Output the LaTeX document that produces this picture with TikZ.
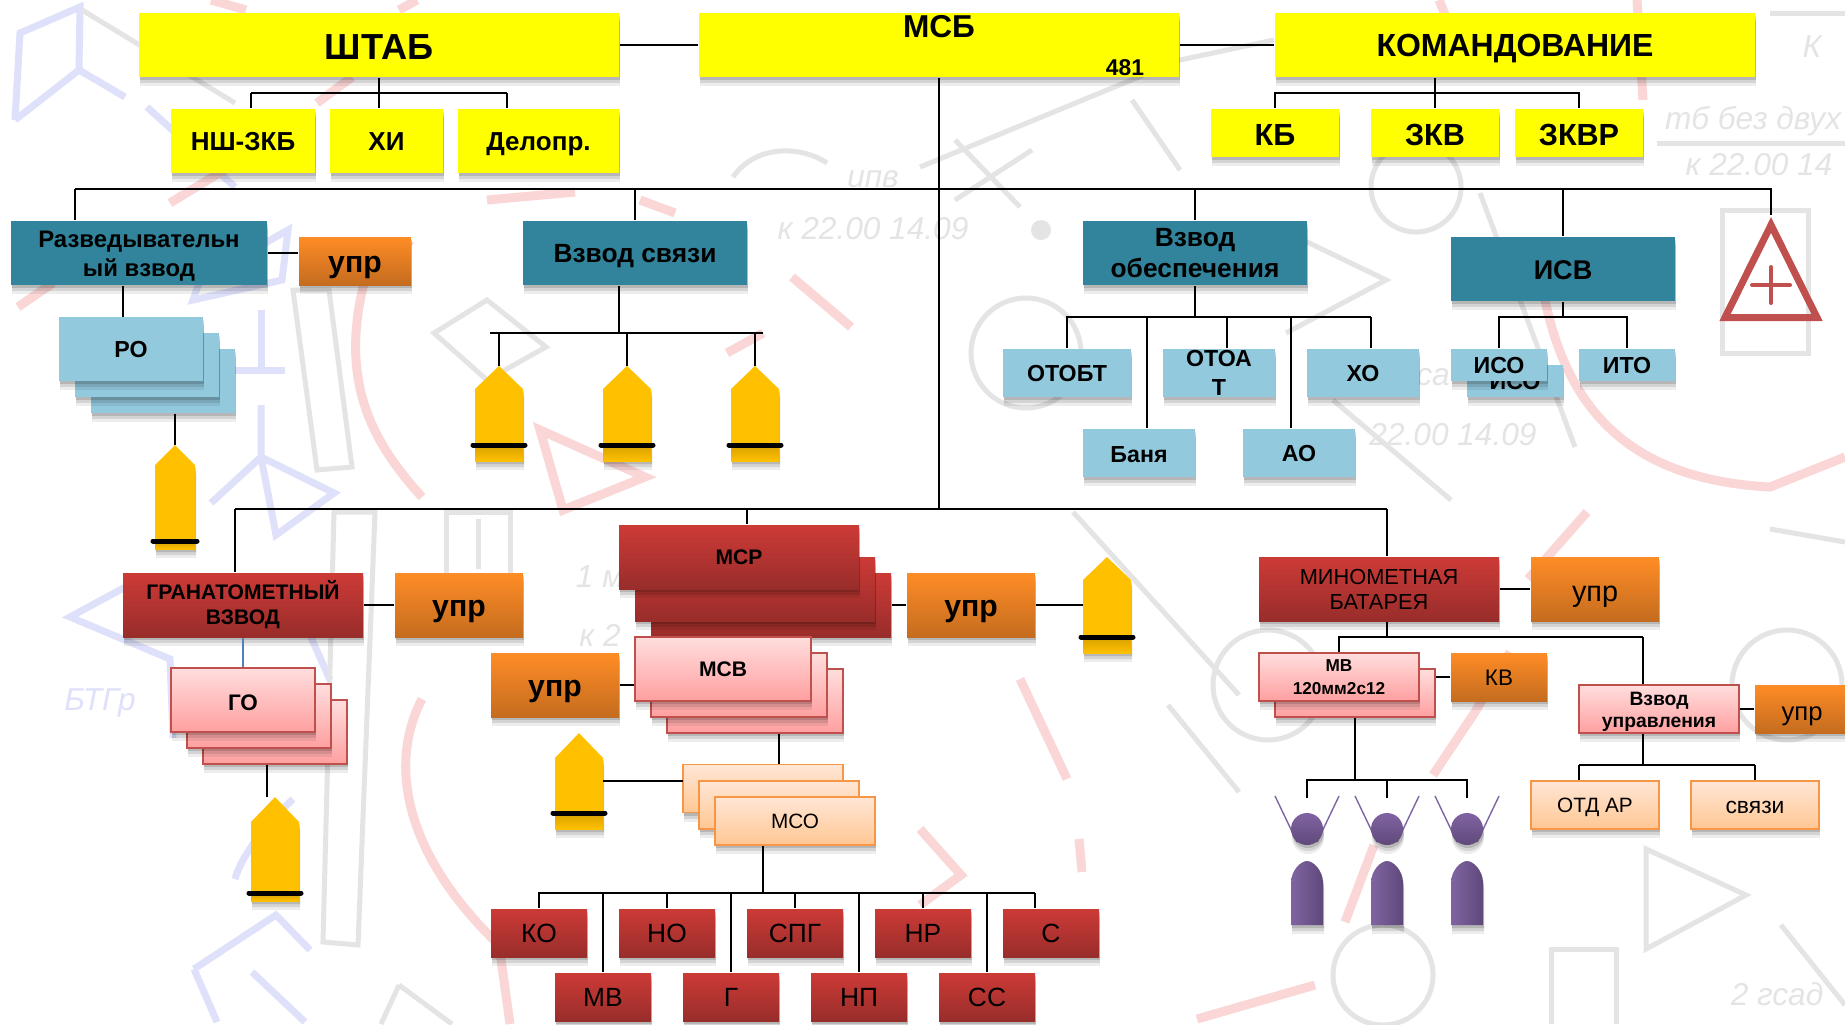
\documentclass[tikz,border=0pt]{standalone}
\usepackage{fontspec}
\setmainfont{Liberation Sans}
\usetikzlibrary{shadows}
\definecolor{hqyellow}{HTML}{FFFF00}
\definecolor{tealbox}{HTML}{31849B}
\definecolor{skybox}{HTML}{92C9DC}
\definecolor{ordtop}{HTML}{FF8C26}
\definecolor{ordbot}{HTML}{C46C1F}
\definecolor{redtop}{HTML}{CD3A37}
\definecolor{redbot}{HTML}{982D2A}
\definecolor{pinktop}{HTML}{FFDEDE}
\definecolor{pinkbot}{HTML}{FF9F9F}
\definecolor{pinkline}{HTML}{C0504D}
\definecolor{peachtop}{HTML}{FFE6D5}
\definecolor{peachbot}{HTML}{FFC793}
\definecolor{peachline}{HTML}{F79646}
\definecolor{penfill}{HTML}{FFC000}
\definecolor{pendark}{HTML}{D6A000}
\definecolor{purptop}{HTML}{8064A2}
\definecolor{purpbot}{HTML}{5F497A}
\definecolor{mapgrey}{HTML}{E4E4E4}
\definecolor{mapred}{HTML}{FBD6D6}
\definecolor{mapblue}{HTML}{DFE1FB}
\definecolor{golink}{HTML}{4F81BD}
\tikzset{
	softshadow/.style={
		drop shadow={shadow xshift=0.01cm, shadow yshift=-0.09cm, opacity=0.07, fill=black},
		drop shadow={shadow xshift=0.01cm, shadow yshift=-0.06cm, opacity=0.10, fill=black},
		drop shadow={shadow xshift=0.01cm, shadow yshift=-0.03cm, opacity=0.14, fill=black}},
	wh/.style 2 args={minimum width=#1cm, minimum height=#2cm, inner sep=0pt, align=center},
	bf/.style 2 args={font=\bfseries\fontsize{#1}{#2}\selectfont},
	rg/.style 2 args={font=\fontsize{#1}{#2}\selectfont},
	dn/.style={text depth=0pt, text height=#1pt},
	hqbox/.style={fill=hqyellow, softshadow},
	tealrect/.style={fill=tealbox, softshadow},
	skyrect/.style={fill=skybox, softshadow},
	ordrect/.style={top color=ordtop, bottom color=ordbot, softshadow},
	redrect/.style={top color=redtop, bottom color=redbot, softshadow},
	pinkrect/.style={top color=pinktop, bottom color=pinkbot, draw=pinkline, line width=0.5pt, softshadow},
	peachrect/.style={top color=peachtop, bottom color=peachbot, draw=peachline, line width=0.5pt, softshadow},
	link/.style={line width=0.45pt},
	bus/.style={line width=0.65pt},
	mapg/.style={draw=mapgrey, line width=0.05cm},
	mapr/.style={draw=mapred, line width=0.09cm},
	mapb/.style={draw=mapblue, line width=0.07cm},
	maptext/.style={text=mapgrey, font=\itshape\fontsize{9}{10}\selectfont},
	pics/pencil/.style n args={4}{code={
		\coordinate (-tip) at (0,0);
		\coordinate (-w) at (-#1,-#3);
		\coordinate (-e) at (#1,-#3);
		\fill[penfill, softshadow] (0,0) -- (#1,-#3) -- (#1,-#2) -- (-#1,-#2) -- (-#1,-#3) -- cycle;
		\shade[top color=pendark, bottom color=penfill] (-#1,-#4) rectangle (#1,-#2);
		\draw[line width=0.05cm, line cap=round] (-#1-0.02,-#4) -- (#1+0.02,-#4);
	}},
	pics/mortar/.style={code={
		\coordinate (-top) at (0,0);
		\draw[purptop, line width=0.4pt] (-0.32,0.02) -- (-0.1,-0.44);
		\draw[purptop, line width=0.4pt] (0.32,0.02) -- (0.1,-0.44);
		\shade[top color=purptop, bottom color=purpbot, softshadow] (0,-0.31) ellipse (0.16 and 0.16);
		\shade[left color=purptop, right color=purpbot, softshadow] (-0.16,-1.27) -- (-0.16,-0.85) .. controls (-0.16,-0.72) and (-0.06,-0.63) .. (0,-0.63) .. controls (0.06,-0.63) and (0.16,-0.72) .. (0.16,-0.85) -- (0.16,-1.27) -- cycle;
	}}
}
\begin{document}
\begin{tikzpicture}[draw=black]
	\useasboundingbox (0,0) rectangle (18.45,-10.24);
	\clip (0,0) rectangle (18.45,-10.24);
	\fill[white] (0,0) rectangle (18.45,-10.24);

	\draw[mapb] (0.15,-1.20) -- (0.20,-0.33) -- (0.80,-0.07) -- (0.79,-0.70) -- (0.15,-1.20);
	\draw[mapb] (0.79,-0.70) -- (1.25,-0.97);
	\draw[mapb] (1.47,-1.07) -- (2.35,-1.87);
	\draw[mapb] (2.00,-2.80) -- (1.93,-3.00) -- (2.82,-2.80) -- (2.88,-2.30) -- (2.00,-2.80);
	\draw[mapb] (2.61,-3.10) -- (2.61,-3.70);
	\draw[mapb] (2.23,-3.70) -- (2.85,-3.70);
	\draw[mapb] (2.61,-4.05) -- (2.61,-4.57) -- (3.34,-4.93) -- (2.76,-5.35) -- (2.61,-4.57) -- (2.11,-5.03);
	\draw[mapb] (2.90,-5.90) -- (3.30,-6.80);
	\draw[mapb] (1.29,-5.85) -- (0.70,-6.17) -- (1.70,-6.59) -- (1.73,-7.38);
	\draw[mapb] (2.93,-7.99) .. controls (2.60,-8.30) and (2.40,-8.60) .. (2.35,-8.79);
	\draw[mapb] (1.94,-9.69) -- (2.76,-9.15) -- (3.10,-9.50);
	\draw[mapb] (1.94,-9.69) -- (2.17,-10.22);
	\draw[mapb] (2.52,-9.72) -- (3.05,-10.22);

	\draw[mapr] (4.11,-2.40) -- (3.64,-2.83) .. controls (3.40,-3.80) and (3.70,-4.40) .. (4.22,-4.97);
	\draw[mapr] (4.22,-6.99) .. controls (3.90,-7.60) and (4.00,-8.50) .. (4.99,-9.45) -- (5.10,-10.24);
	\draw[mapr] (4.87,-2.00) -- (5.75,-1.92);
	\draw[mapr] (6.40,-2.00) -- (6.75,-2.13);
	\draw[mapr] (2.11,0) -- (2.46,-0.10);
	\draw[mapr] (3.99,-0.10) -- (4.17,0);
	\draw[mapr] (3.17,-1.03) -- (3.52,-0.77);
	\draw[mapr] (1.70,-2.03) -- (2.29,-1.67);
	\draw[mapr] (0.18,-3.07) -- (0.53,-2.83);
	\draw[mapr] (5.40,-4.30) -- (6.45,-4.77) -- (5.63,-5.10) -- cycle;
	\draw[mapr] (7.92,-2.77) -- (8.51,-3.27);
	\draw[mapr] (7.27,-3.53) -- (7.63,-3.33);
	\draw[mapr] (14.39,0) -- (14.69,-0.73);
	\draw[mapr] (16.37,0) -- (16.43,-1.00);
	\draw[mapr] (15.45,-3.00) .. controls (15.70,-4.20) and (16.40,-4.80) .. (17.70,-4.87) -- (18.45,-4.57);
	\draw[mapr] (10.20,-6.79) -- (10.67,-7.79);
	\draw[mapr] (10.79,-8.39) -- (10.82,-8.72);
	\draw[mapr] (9.20,-8.29) -- (9.61,-8.75) -- (9.20,-9.05);
	\draw[mapr] (11.97,-10.19) -- (13.15,-9.85);
	\draw[mapr] (15.10,-6.52) -- (14.75,-7.12) -- (14.33,-7.75);
	\draw[mapr] (15.87,-5.12) -- (15.28,-5.79);
	\draw[mapr] (13.74,-8.45) -- (13.45,-9.22);

	\draw[mapg] (9.20,-1.67) -- (11.80,-0.60) -- (12.74,-0.40);
	\draw[mapg] (11.32,-1.00) -- (11.80,-1.70);
	\draw[mapg] (9.55,-1.40) -- (10.20,-2.07);
	\draw[mapg] (9.55,-2.00) -- (10.32,-1.50);
	\draw[mapg] (14.16,-1.87) circle (0.45);
	\draw[mapg] (10.26,-3.53) circle (0.55);
	\fill[mapgrey] (10.41,-2.30) circle (0.10);
	\draw[mapg] (13.03,-2.40) -- (13.86,-2.80) -- (12.86,-3.33);
	\draw[mapg] (13.33,-4.00) -- (14.51,-5.00);
	\draw[mapg] (14.80,-1.93) -- (15.75,-4.47);
	\draw[mapg] (2.93,-2.90) -- (3.29,-2.90) -- (3.52,-4.67) -- (3.17,-4.70) -- cycle;
	\draw[mapg] (3.34,-5.12) -- (3.75,-5.12) -- (3.58,-9.45) -- (3.23,-9.42) -- cycle;
	\draw[mapg] (4.87,-3.00) -- (5.46,-3.47) -- (4.87,-3.80) -- (4.34,-3.33) -- cycle;
	\draw[mapg] (0.82,-0.10) -- (2.35,-1.03);
	\draw[mapg] (7.33,-1.77) .. controls (7.55,-1.45) and (8.00,-1.45) .. (8.27,-1.63);
	\draw[mapg] (10.73,-5.12) -- (12.39,-6.95);
	\draw[mapg] (11.68,-7.05) -- (12.39,-7.92);
	\draw[mapg] (12.68,-6.85) circle (0.55);
	\draw[mapg] (16.46,-8.49) -- (17.46,-8.95) -- (16.46,-9.49) -- cycle;
	\draw[mapg] (15.51,-10.24) -- (15.51,-9.49) -- (16.16,-9.49) -- (16.16,-10.24);
	\draw[mapg] (13.83,-9.75) circle (0.50);
	\draw[mapg] (17.87,-6.85) circle (0.55);
	\draw[mapg] (17.81,-9.25) -- (18.45,-10.05);
	\draw[mapg] (17.70,-5.29) -- (18.45,-5.42);
	\draw[mapg] (17.22,-2.10) rectangle (18.08,-3.53);
	\draw[mapg] (16.57,-1.43) -- (18.45,-1.43);
	\draw[mapg] (17.70,-0.13) -- (18.45,-0.13);
	\draw[mapg] (3.99,-9.85) -- (4.52,-10.24);
	\draw[mapg] (3.99,-9.85) -- (3.81,-10.24);
	\draw[mapg] (4.78,-5.19) -- (4.78,-5.69);
	\draw[mapg] (4.46,-5.12) rectangle (5.10,-5.79);

	\node (mapa) at (8.73,-1.79) [maptext] {ипв};
	\node (mapb) at (8.73,-2.29) [maptext] {к 22.00 14.09};
	\node (mapc) at (17.53,-1.21) [maptext] {тб без двух};
	\node (mapd) at (17.59,-1.65) [maptext] {к 22.00 14};
	\node (mape) at (14.53,-4.35) [maptext] {22.00 14.09};
	\node (mapf) at (1.00,-7.03) [maptext, text=mapblue] {БТГр};
	\node (mapg) at (17.77,-9.94) [maptext] {2 гсад};
	\node (maph) at (6.00,-5.77) [maptext] {1 м};
	\node (mapi) at (6.00,-6.35) [maptext] {к 2};
	\node (mapj) at (18.12,-0.47) [maptext] {К};
	\node (mapk) at (14.33,-3.77) [maptext] {са};

	\node (shtab) at ( 3.79, -0.45)	[hqbox, wh={4.80}{0.64}, bf={10.3}{12}, dn=8.0]	{ШТАБ};
	\node (msb) at ( 9.39, -0.45)	[hqbox, wh={4.80}{0.64}]	{};
	\node (msbname) at ( 9.39, -0.27)	[bf={9}{11}, inner sep=0pt]	{МСБ};
	\node (msbnum) at (11.25, -0.68)	[bf={6.5}{8}, inner sep=0pt]	{481};
	\node (kom) at (15.15, -0.45)	[hqbox, wh={4.80}{0.64}, bf={9.1}{11}, dn=6.5]	{КОМАНДОВАНИЕ};
	\node (nsh) at ( 2.43, -1.41)	[hqbox, wh={1.44}{0.64}, bf={7.4}{9}, dn=5.3]	{НШ-ЗКБ};
	\node (hi) at ( 3.865, -1.41)	[hqbox, wh={1.13}{0.64}, bf={7.4}{9}, dn=5.3]	{ХИ};
	\node (delo) at ( 5.385, -1.41)	[hqbox, wh={1.61}{0.64}, bf={7.4}{9}, dn=5.3]	{Делопр.};
	\node (kb) at (12.75, -1.33)	[hqbox, wh={1.28}{0.48}, bf={8.7}{10}, dn=7.0]	{КБ};
	\node (zkv) at (14.35, -1.33)	[hqbox, wh={1.28}{0.48}, bf={8.7}{10}, dn=7.0]	{ЗКВ};
	\node (zkvr) at (15.79, -1.33)	[hqbox, wh={1.28}{0.48}, bf={8.7}{10}, dn=7.0]	{ЗКВР};

	\node (razv) at ( 1.39, -2.53)	[tealrect, wh={2.56}{0.64}, bf={6.8}{8.4}]	{\rule{0pt}{6.4pt}Разведывательн\\ый взвод};
	\node (uprr) at ( 3.55, -2.61)	[ordrect, wh={1.12}{0.48}, bf={8.6}{10}, dn=6.5]	{упр};
	\node (svyaz) at ( 6.35, -2.53)	[tealrect, wh={2.24}{0.64}, bf={7.5}{9}, dn=5.4]	{Взвод связи};
	\node (obesp) at (11.95, -2.53)	[tealrect, wh={2.24}{0.64}, bf={7.5}{9}]	{Взвод\\обеспечения};
	\node (isv) at (15.63, -2.69)	[tealrect, wh={2.24}{0.64}, bf={7.7}{9}, dn=6.2]	{ИСВ};
	\node (ro3) at ( 1.63, -3.81)	[skyrect, wh={1.44}{0.64}]	{};
	\node (ro2) at ( 1.47, -3.65)	[skyrect, wh={1.44}{0.64}]	{};
	\node (ro1) at ( 1.31, -3.49)	[skyrect, wh={1.44}{0.64}, bf={6.6}{8}, dn=4.8]	{РО};
	\node (otobt) at (10.67, -3.73)	[skyrect, wh={1.28}{0.48}, bf={6.6}{8.3}, dn=4.8]	{ОТОБТ};
	\node (otoa) at (12.19, -3.73)	[skyrect, wh={1.12}{0.48}, bf={6.6}{8.3}]	{ОТОА\\Т};
	\node (xo) at (13.63, -3.73)	[skyrect, wh={1.12}{0.48}, bf={6.6}{8.3}, dn=4.8]	{ХО};
	\node (banya) at (11.39, -4.53)	[skyrect, wh={1.12}{0.48}, bf={6.6}{8.3}, dn=5.2]	{Баня};
	\node (ao) at (12.99, -4.53)	[skyrect, wh={1.12}{0.48}, bf={6.6}{8.3}]	{АО};
	\node (iso2) at (15.15, -3.81)	[skyrect, wh={0.96}{0.32}, bf={6.6}{8.3}, dn=4.8]	{ИСО};
	\node (iso1) at (14.99, -3.65)	[skyrect, wh={0.96}{0.32}, bf={6.6}{8.3}, dn=4.8]	{ИСО};
	\node (ito) at (16.27, -3.65)	[skyrect, wh={0.96}{0.32}, bf={6.6}{8.3}, dn=4.8]	{ИТО};

	\node (gran) at ( 2.43, -6.05)	[redrect, wh={2.40}{0.64}, bf={6.0}{7.1}]	{ГРАНАТОМЕТНЫЙ\\ВЗВОД};
	\node (uprg) at ( 4.59, -6.05)	[ordrect, wh={1.28}{0.64}, bf={8.6}{10}, dn=6.5]	{упр};
	\node (go3) at ( 2.75, -7.32)	[pinkrect, wh={1.44}{0.64}]	{};
	\node (go2) at ( 2.59, -7.16)	[pinkrect, wh={1.44}{0.64}]	{};
	\node (go1) at ( 2.43, -7.00)	[pinkrect, wh={1.44}{0.64}, bf={6.4}{8}, dn=6.0]	{ГО};
	\node (msr3) at ( 7.71, -6.05)	[redrect, wh={2.40}{0.64}]	{};
	\node (msr2) at ( 7.55, -5.89)	[redrect, wh={2.40}{0.64}]	{};
	\node (msr1) at ( 7.39, -5.57)	[redrect, wh={2.40}{0.64}, bf={6}{7}, dn=4.4]	{МСР};
	\node (uprm) at ( 9.71, -6.05)	[ordrect, wh={1.28}{0.64}, bf={8.6}{10}, dn=6.5]	{упр};
	\node (uprv) at ( 5.55, -6.85)	[ordrect, wh={1.28}{0.64}, bf={8.6}{10}, dn=6.5]	{упр};
	\node (msv3) at ( 7.55, -7.01)	[pinkrect, wh={1.76}{0.64}]	{};
	\node (msv2) at ( 7.39, -6.85)	[pinkrect, wh={1.76}{0.64}]	{};
	\node (msv1) at ( 7.23, -6.69)	[pinkrect, wh={1.76}{0.64}, bf={6}{7}, dn=4.4]	{МСВ};
	\node (mso1) at ( 7.63, -7.885)	[peachrect, wh={1.60}{0.48}]	{};
	\node (mso2) at ( 7.79, -8.05)	[peachrect, wh={1.60}{0.48}]	{};
	\node (mso3) at ( 7.95, -8.21)	[peachrect, wh={1.60}{0.48}, rg={5.9}{7}, dn=4.3]	{МСО};
	\node (ko) at ( 5.39, -9.33)	[redrect, wh={0.96}{0.48}, rg={7.5}{9}, dn=5.4]	{КО};
	\node (no) at ( 6.67, -9.33)	[redrect, wh={0.96}{0.48}, rg={7.5}{9}, dn=5.4]	{НО};
	\node (spg) at ( 7.95, -9.33)	[redrect, wh={0.96}{0.48}, rg={7.5}{9}, dn=5.4]	{СПГ};
	\node (nr) at ( 9.23, -9.33)	[redrect, wh={0.96}{0.48}, rg={7.5}{9}, dn=5.4]	{НР};
	\node (cc1) at (10.51, -9.33)	[redrect, wh={0.96}{0.48}, rg={7.5}{9}, dn=5.4]	{С};
	\node (mv) at ( 6.03, -9.97)	[redrect, wh={0.96}{0.48}, rg={7.5}{9}, dn=5.4]	{МВ};
	\node (gg) at ( 7.31, -9.97)	[redrect, wh={0.96}{0.48}, rg={7.5}{9}, dn=5.4]	{Г};
	\node (np) at ( 8.59, -9.97)	[redrect, wh={0.96}{0.48}, rg={7.5}{9}, dn=5.4]	{НП};
	\node (cc2) at ( 9.87, -9.97)	[redrect, wh={0.96}{0.48}, rg={7.5}{9}, dn=5.4]	{СС};

	\node (minb) at (13.79, -5.89)	[redrect, wh={2.40}{0.64}, rg={6.2}{7.1}]	{МИНОМЕТНАЯ\\БАТАРЕЯ};
	\node (uprb) at (15.95, -5.89)	[ordrect, wh={1.28}{0.64}, rg={8.2}{10}, dn=7.0]	{упр};
	\node (mvb2) at (13.55, -6.93)	[pinkrect, wh={1.60}{0.48}]	{};
	\node (mvb1) at (13.39, -6.77)	[pinkrect, wh={1.60}{0.48}, bf={4.9}{6.5}]	{МВ\\120мм2с12};
	\node (kv) at (14.99, -6.77)	[ordrect, wh={0.96}{0.48}, rg={6.4}{8}, dn=5.0]	{КВ};
	\node (vzu) at (16.59, -7.09)	[pinkrect, wh={1.60}{0.48}, bf={5.5}{6.3}]	{\rule{0pt}{5.3pt}Взвод\\управления};
	\node (upru) at (18.02, -7.09)	[ordrect, wh={0.94}{0.48}, rg={7.3}{9}, dn=6.5]	{упр};
	\node (otd) at (15.95, -8.05)	[peachrect, wh={1.28}{0.48}, rg={5.9}{7}, dn=4.3]	{ОТД АР};
	\node (svz) at (17.55, -8.05)	[peachrect, wh={1.28}{0.48}, rg={6.5}{8}, dn=4.6]	{связи};

	\pic (pa) at ( 1.75, -4.45) {pencil={0.20}{1.04}{0.20}{0.96}};
	\pic (pb) at ( 4.99, -3.66) {pencil={0.24}{0.95}{0.23}{0.79}};
	\pic (pc) at ( 6.27, -3.66) {pencil={0.24}{0.95}{0.23}{0.79}};
	\pic (pd) at ( 7.55, -3.66) {pencil={0.24}{0.95}{0.23}{0.79}};
	\pic (pe) at ( 2.75, -7.97) {pencil={0.24}{1.04}{0.25}{0.96}};
	\pic (pf) at ( 5.79, -7.33) {pencil={0.24}{0.96}{0.25}{0.80}};
	\pic (pg) at (11.07, -5.57) {pencil={0.24}{0.96}{0.23}{0.80}};
	\pic (ma) at (13.07, -7.98) {mortar};
	\pic (mb) at (13.87, -7.98) {mortar};
	\pic (mc) at (14.67, -7.98) {mortar};

	\coordinate (redapex) at (17.71, -2.15);
	\draw[pinkline, line width=0.07cm] (17.71, -2.25) -- (18.17, -3.175) -- (17.25, -3.175) -- cycle;
	\draw[pinkline, line width=0.04cm, line cap=round] (17.71, -2.67) -- (17.71, -3.03);
	\draw[pinkline, line width=0.04cm, line cap=round] (17.52, -2.85) -- (17.90, -2.85);

	\coordinate (ba1) at ( 2.51, -0.93);
	\coordinate (ba2) at ( 3.79, -0.93);
	\coordinate (ba3) at ( 5.07, -0.93);
	\coordinate (bk) at (14.35, -0.93);
	\coordinate (bm) at ( 9.39, -1.89);
	\coordinate (bm1) at ( 0.75, -1.89);
	\coordinate (bg) at ( 9.39, -5.09);
	\coordinate (bg1) at ( 2.35, -5.09);
	\coordinate (bg2) at ( 7.47, -5.09);
	\coordinate (bg3) at (13.87, -5.09);
	\coordinate (dr) at ( 1.23, -3.17);
	\coordinate (bs) at ( 6.19, -3.33);
	\coordinate (bs1) at ( 4.90, -3.33);
	\coordinate (bs2) at ( 7.63, -3.33);
	\coordinate (be) at (11.95, -3.17);
	\coordinate (be2) at (11.47, -3.17);
	\coordinate (be3) at (12.27, -3.17);
	\coordinate (be4) at (12.91, -3.17);
	\coordinate (be5) at (13.71, -3.17);
	\coordinate (bi) at (15.63, -3.17);
	\coordinate (dg) at ( 2.67, -7.97);
	\coordinate (lc) at ( 6.83, -7.81);
	\coordinate (dv) at ( 7.79, -7.64);
	\coordinate (bo) at ( 7.63, -8.93);
	\coordinate (bo1) at (10.35, -8.93);
	\coordinate (bb) at (13.87, -6.37);
	\coordinate (bb2) at (16.43, -6.37);
	\coordinate (bn) at (13.55, -7.80);
	\coordinate (bu) at (16.43, -7.65);
	\coordinate (bu1) at (15.79, -7.65);
	\coordinate (bu2) at (17.55, -7.65);

	\draw[bus] (shtab) -- (msb);
	\draw[bus] (msb) -- (kom);
	\draw[bus] (ba1) -- (ba3);
	\draw[bus] (shtab.south) -- (ba2);
	\draw[bus] (ba1) -- (ba1 |- nsh.north);
	\draw[bus] (ba2) -- (ba2 |- hi.north);
	\draw[bus] (ba3) -- (ba3 |- delo.north);
	\draw[bus] (kom.south -| bk) -- (bk);
	\draw[bus] (kb.north) |- (bk) -| (zkvr.north);
	\draw[bus] (bk) -- (zkv.north);

	\draw[link] (msb.south) -- (bg);
	\draw[bus] (bm1) -- (bm) -| (redapex);
	\draw[bus] (bm1) -- (bm1 |- razv.north);
	\draw[link] (svyaz.north) -- (svyaz.north |- bm);
	\draw[link] (obesp.north) -- (obesp.north |- bm);
	\draw[link] (isv.north) -- (isv.north |- bm);
	\draw[bus] (razv.east) -- (razv.east -| uprr.west);
	\draw[link] (dr |- razv.south) -- (dr);
	\draw[link] (pa-tip |- ro3.south) -- (pa-tip);
	\draw[link] (bs |- svyaz.south) -- (bs);
	\draw[bus] (bs1) -- (bs2);
	\draw[link] (pb-tip |- bs) -- (pb-tip);
	\draw[link] (pc-tip |- bs) -- (pc-tip);
	\draw[link] (pd-tip |- bs) -- (pd-tip);
	\draw[link] (obesp.south) -- (be);
	\draw[bus] (otobt.north) |- (be) -| (be5);
	\draw[link] (be2) -- (be2 |- banya.north);
	\draw[link] (be3) -- (be3 |- otoa.north);
	\draw[link] (be4) -- (be4 |- ao.north);
	\draw[link] (be5) -- (be5 |- xo.north);
	\draw[link] (isv.south) -- (bi);
	\draw[bus] (iso1.north) |- (bi) -| (ito.north);

	\draw[bus] (bg1) -- (bg3);
	\draw[link] (bg1) -- (bg1 |- gran.north);
	\draw[link] (bg2) -- (bg2 |- msr1.north);
	\draw[link] (bg3) -- (bg3 |- minb.north);
	\draw[bus] (gran) -- (uprg);
	\draw[link, draw=golink] (gran.south) -- (go1.north);
	\draw[link] (dg |- go3.south) -- (dg);
	\draw[bus] (msr3) -- (uprm);
	\draw[bus] (uprm.east) -- (uprm.east -| pg-w);
	\draw[bus] (uprv.east) -- (uprv.east -| msv1.west);
	\draw[link] (dv |- msv3.south) -- (dv);
	\draw[bus] (lc -| pf-e) -- (lc);
	\draw[link] (bo |- mso3.south) -- (bo);
	\draw[bus] (ko.north) |- (bo1);
	\draw[link] (bo1) -- (bo1 |- cc1.north);
	\draw[link] (mv.north) -- (mv.north |- bo);
	\draw[link] (no.north) -- (no.north |- bo);
	\draw[link] (gg.north) -- (gg.north |- bo);
	\draw[link] (spg.north) -- (spg.north |- bo);
	\draw[link] (np.north) -- (np.north |- bo);
	\draw[link] (nr.north) -- (nr.north |- bo);
	\draw[link] (cc2.north) -- (cc2.north |- bo);

	\draw[bus] (minb) -- (uprb);
	\draw[link] (bb |- minb.south) -- (bb);
	\draw[bus] (mvb1.north) |- (bb2);
	\draw[link] (bb2) -- (bb2 |- vzu.north);
	\draw[bus] (kv.west) -- (kv.west -| mvb2.east);
	\draw[link] (mvb2.south) -- (bn);
	\draw[bus] (ma-top) |- (bn) -| (mc-top);
	\draw[link] (mb-top) -- (mb-top |- bn);
	\draw[bus] (vzu) -- (upru);
	\draw[link] (bu |- vzu.south) -- (bu);
	\draw[bus] (bu1) -- (bu2);
	\draw[link] (bu1) -- (bu1 |- otd.north);
	\draw[link] (bu2) -- (bu2 |- svz.north);
\end{tikzpicture}
\end{document}
